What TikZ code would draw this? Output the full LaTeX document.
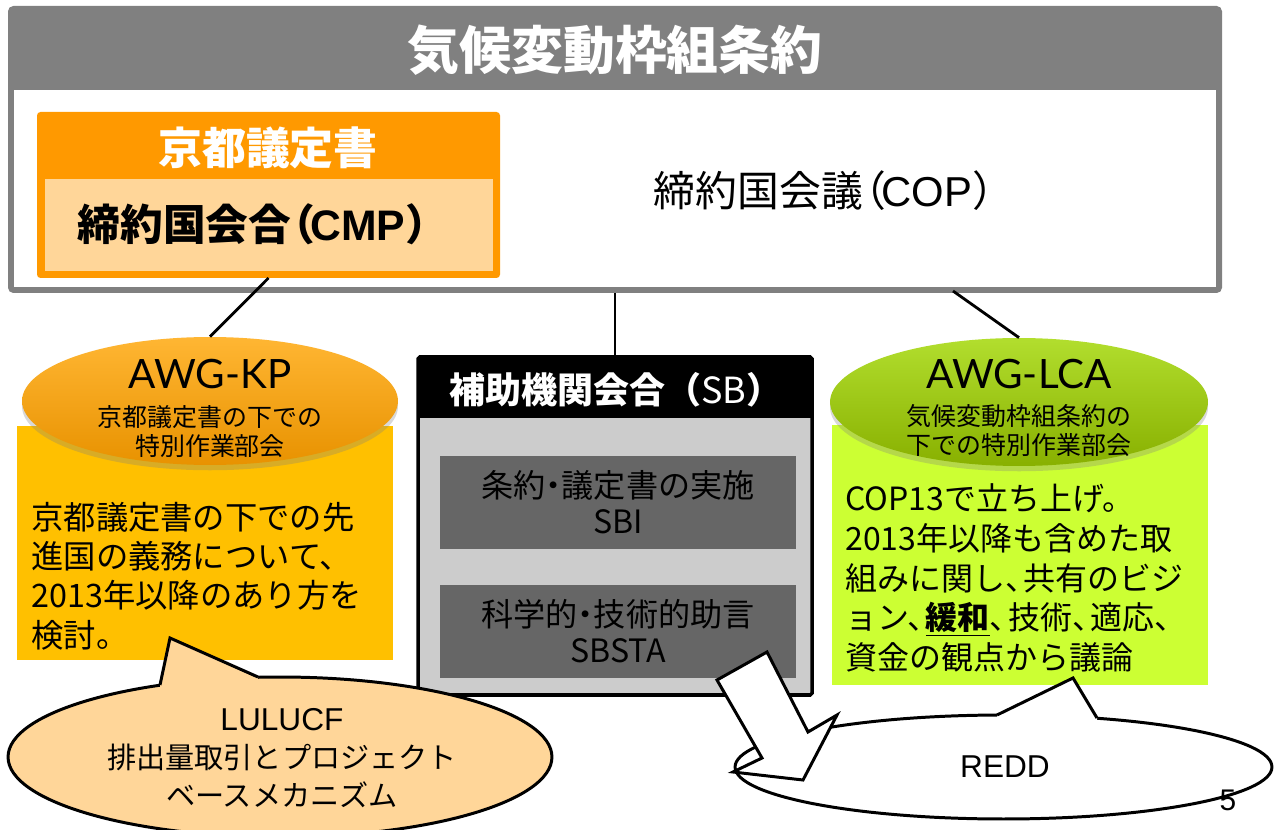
\documentclass[tikz,border=0pt]{standalone}
\usepackage{fontspec}
\setmainfont{Noto Sans CJK JP}
\newfontfamily\latofont{Lato}
\newfontfamily\arialfont{Liberation Sans}
\usetikzlibrary{shapes.geometric,fit,shadows}
\definecolor{framegray}{HTML}{808080}
\definecolor{kporange}{HTML}{FF9900}
\definecolor{lorange}{HTML}{FFD699}
\definecolor{kpboxc}{HTML}{FFC000}
\definecolor{sbgray}{HTML}{CCCCCC}
\definecolor{sbdark}{HTML}{666666}
\definecolor{lcaboxc}{HTML}{CCFF33}
\definecolor{kptop}{HTML}{FFB633}
\definecolor{kpmid}{HTML}{FFA300}
\definecolor{kpbot}{HTML}{E89200}
\definecolor{lcatop}{HTML}{B2DE2E}
\definecolor{lcamid}{HTML}{9CCC00}
\definecolor{lcabot}{HTML}{88B000}
\newcommand\myfs[2]{\fontsize{#1}{#2}\selectfont}
\newcommand\hc{、\kern-.42em}
\newcommand\nd{\kern-.25em・\kern-.25em}
\tikzset{
  box/.style={inner sep=0pt, outer sep=0pt},
  conn/.style={draw=black, line width=1.6pt},
  outl/.style={draw=black, line width=1.7pt, line join=miter},
  awg/.style={ellipse, inner sep=0pt, drop shadow={opacity=0.3, shadow xshift=0pt, shadow yshift=-3pt}},
}
\begin{document}
\begin{tikzpicture}[x=0.02cm,y=-0.02cm]
\clip (0,0) rectangle (1280,830);
\fill[white] (0,0) rectangle (1280,830);
% outer frame
\node[box, fit={(8,6)(1222,293)}, fill=framegray, rounded corners=3pt] (frame) {};
\node[box, fit={(14,90)(1216,287)}, fill=white] (cop) {};
\node[text=white, font=\bfseries\myfs{29.5}{34}] (title) at (615,50) {気候変動枠組条約};
% Kyoto protocol box
\node[box, fit={(37,112)(500,278)}, fill=kporange, rounded corners=2pt] (kyoto) {};
\node[box, fit={(45,179)(493,271)}, fill=lorange] (cmp) {};
\node[text=white, font=\bfseries\myfs{25}{30}] (kyototitle) at (268,148) {京都議定書};
\node[font=\bfseries\myfs{24.3}{28}] (cmptext) at (263,224) {締約国会合\kern-.45em（\kern-.1em{\arialfont CMP}）};
\node[font=\myfs{23.8}{28}] (coptext) at (834,191) {締約国会議\kern-.45em（\kern-.1em{\arialfont COP}）};
% SB box
\node[box, fit={(418,357)(812,695)}, fill=sbgray, draw=black, line width=2pt, rounded corners=1pt] (sb) {};
\node[box, fit={(418,357)(812,418)}, fill=black] (sbhead) {};
\node[anchor=west, text=white, font=\myfs{20.5}{24}] (sbtitle) at (443,390) {{\bfseries 補助機関会合（}SB{\bfseries ）}};
\node[box, fit={(440,456)(796,549)}, fill=sbdark] (sbi) {};
\node[align=center, font=\myfs{18.3}{20.5}] (sbitext) at (sbi.center) {条約\nd 議定書の実施\\SBI};
\node[box, fit={(440,585)(796,678)}, fill=sbdark] (sbsta) {};
\node[align=center, font=\myfs{18.3}{20.5}] (sbstatext) at (sbsta.center) {科学的\nd 技術的助言\\SBSTA};
% AWG-KP
\node[box, fit={(17,426)(393,660)}, fill=kpboxc] (kpbox) {};
\node[awg, minimum width=7.52cm, minimum height=2.56cm, top color=kptop, middle color=kpmid, bottom color=kpbot] (kpell) at (210,401) {};
\node[font=\latofont\myfs{23}{27}] (kpname) at (210,374) {AWG-KP};
\node[align=center, font=\myfs{14.2}{16.5}] (kpsub) at (210,432) {京都議定書の下での\\特別作業部会};
\node[anchor=west, align=left, font=\myfs{18.4}{22.3}, inner sep=0pt] (kptext) at (31,576) {京都議定書の下での先\\進国の義務について、\\2013年以降のあり方を\\検討。};
% AWG-LCA
\node[box, fit={(832,425)(1208,685)}, fill=lcaboxc] (lcabox) {};
\node[awg, minimum width=7.56cm, minimum height=2.56cm, top color=lcatop, middle color=lcamid, bottom color=lcabot] (lcaell) at (1019,402) {};
\node[font=\latofont\myfs{23}{27}] (lcaname) at (1019,374) {AWG-LCA};
\node[align=center, font=\myfs{14.2}{16.5}] (lcasub) at (1019,431) {気候変動枠組条約の\\下での特別作業部会};
\node[anchor=west, align=left, font=\myfs{18.2}{22.7}, inner sep=0pt] (lcatext) at (845,578) {COP13で立ち上げ。\\2013年以降も含めた取\\組みに関し\hc 共有のビジ\\ョン\hc\underline{\bfseries 緩和}\hc 技術\hc 適応、\\資金の観点から議論};
% connectors
\coordinate (frR) at (953,291);
\draw[conn] (kyoto.south) -- (kpell.north);
\draw[conn] (frame.south) -- (sb.north);
\draw[conn] (frR) -- (lcaell.north);
% LULUCF callout
\node[ellipse, outl, fill=lorange, minimum width=10.88cm, minimum height=3.2cm, inner sep=0pt] (lulu) at (280,757) {};
\fill[lorange] (160,685) -- (170,638) -- (258,677) -- (258,695) -- (160,700) -- cycle;
\draw[outl] (160,685) -- (170,638) -- (258,677);
\node[align=center, font=\myfs{16.6}{21.5}] (lulutext) at (282,758) {{\arialfont\myfs{18}{21.5}LULUCF}\\排出量取引とプロジェクト\\ベースメカニズム};
% REDD callout
\node[ellipse, outl, fill=white, minimum width=10.74cm, minimum height=2.08cm, inner sep=0pt] (redd) at (1003.5,767) {};
\fill[white] (997,715) -- (1073,678) -- (1097,718) -- (1097,730) -- (997,730) -- cycle;
\draw[outl] (997,715) -- (1073,678) -- (1097,718);
\node[font=\arialfont\myfs{18}{21}] (reddtext) at (1005,767) {REDD};
% block arrow
\draw[outl, fill=white] (717,680) -- (767,652) -- (808,732) -- (837,715) -- (803,780) -- (733,772) -- (762,758) -- cycle;
% page number
\node[font=\arialfont\myfs{17}{20}] (pagenum) at (1228,800) {5};
\end{tikzpicture}
\end{document}
